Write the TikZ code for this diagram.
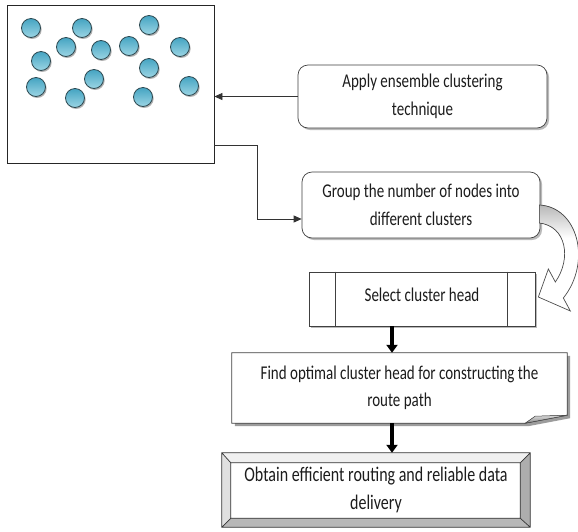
\documentclass[tikz,border=0pt]{standalone}
\usepackage{fontspec}
\setmainfont{Carlito}
\usepackage{graphicx}
\usetikzlibrary{arrows.meta,shadows,calc,backgrounds}

\definecolor{ballhi}{HTML}{9BD5E4}
\definecolor{ballmid}{HTML}{45A4C2}
\definecolor{balledge}{HTML}{2E4A52}
\definecolor{ink}{HTML}{1C1C1C}

% one text line, drawn a little taller than the font
\newcommand{\tline}[1]{\scalebox{1}[1.3]{#1}}

% outline of the curved block arrow between the grouping and selection steps
\newcommand{\bendpath}{(ca) .. controls (578,207) and (592,262) .. ($(sel.east)+(28,-1)$)
  -- ($(sel.east)+(35,12)$) -- (tip) -- ($(sel.east)+(13,-30)$) -- ($(sel.east)+(20,-17)$)
  .. controls (572,258) and (566,226) .. (cb) -- cycle}

\begin{document}
\begin{tikzpicture}[x=1pt,y=-1pt,
  ball/.style={circle, inner sep=0pt, minimum size=19pt, draw=balledge, line width=0.8pt,
    top color=ballmid, bottom color=ballhi,
    drop shadow={shadow xshift=1.2pt, shadow yshift=-1.5pt, opacity=0.6}},
  stepbox/.style={draw=black!75, line width=0.7pt, fill=white, text=ink, align=center, inner sep=0pt},
  softshadow/.style={drop shadow={shadow xshift=2pt, shadow yshift=-2pt, fill=black!45, opacity=0.6}},
  link/.style={draw=black!80, line width=0.8pt, -{Triangle[length=8pt,width=7pt]}},
  bigarrow/.style={draw=black, line width=4.5pt, -{Triangle[length=8pt,width=11pt]}},
  txt/.style={font=\fontsize{15}{27.5}\selectfont},
  bigtxt/.style={font=\fontsize{16}{28.5}\selectfont}
]
\begin{scope}[on background layer]
  \fill[white] (0,0) rectangle (578,531);
\end{scope}
\useasboundingbox (0,0) rectangle (578,531);

% field of sensor nodes
\node[draw=black!85, line width=0.8pt, minimum width=207pt, minimum height=158pt, inner sep=0pt] (fld) at (110.5,84) {};
\foreach \n/\x/\y in {1/31/28, 2/82/28, 3/149/25, 4/66/47, 5/101/50, 6/129/46, 7/180/47,
                      8/41/61, 9/149/68, 10/94/79, 11/36/87, 12/189/86, 13/75/98, 14/143/97}
  \node[ball] (b\n) at (\x,\y) {};

% process steps
\node[stepbox, rounded corners=10pt, softshadow, minimum width=249pt, minimum height=63pt, txt] (app) at (422.5,96.5)
  {\tline{Apply ensemble clustering}\\\tline{technique}};
\node[stepbox, rounded corners=10pt, softshadow, minimum width=238pt, minimum height=66pt, txt] (grp) at (421,205)
  {\tline{Group the number of nodes into}\\\tline{different clusters}};
\node[stepbox, softshadow, minimum width=226pt, minimum height=54pt, txt] (sel) at (422,299)
  {\raisebox{8pt}{\tline{Select cluster head}}};
\draw[black!75, line width=0.7pt] ([xshift=27pt]sel.north west) -- ([xshift=27pt]sel.south west)
  ([xshift=-28pt]sel.north east) -- ([xshift=-28pt]sel.south east);

\node[txt, text=ink, align=center, minimum width=335pt, minimum height=70pt, inner sep=0pt] (fnd) at (399.5,388)
  {\tline{Find optimal cluster head for constructing the}\\\tline{route path}};
\node[bigtxt, text=ink, align=center, minimum width=308pt, minimum height=74pt, inner sep=0pt] (obt) at (376,490)
  {\tline{Obtain efficient routing and reliable data}\\\tline{delivery}};

\begin{scope}[on background layer]
  % document shape with a folded corner
  \fill[black!55, opacity=0.7, transform canvas={shift={(3pt,-3pt)}}]
    (fnd.north west) -- (fnd.north east) -- ($(fnd.south east)+(0,-8)$) -- ($(fnd.south east)+(-42,0)$) -- (fnd.south west) -- cycle;
  \filldraw[fill=white, draw=black!75, line width=0.7pt]
    (fnd.north west) -- (fnd.north east) -- ($(fnd.south east)+(0,-8)$) -- ($(fnd.south east)+(-42,0)$) -- (fnd.south west) -- cycle;
  \filldraw[top color=black!15, bottom color=black!45, draw=black!70, line width=0.5pt]
    ($(fnd.south east)+(-42,0)$) -- ($(fnd.south east)+(-32,-7)$) -- ($(fnd.south east)+(0,-8)$) -- cycle;
  % bevelled frame
  \coordinate (i1) at ($(obt.north west)+(9,10)$);
  \coordinate (i2) at ($(obt.north east)+(-10,10)$);
  \coordinate (i3) at ($(obt.south east)+(-10,-9)$);
  \coordinate (i4) at ($(obt.south west)+(9,-9)$);
  \fill[black!6] (obt.north west) -- (obt.north east) -- (i2) -- (i1) -- cycle;
  \fill[black!12] (obt.north west) -- (i1) -- (i4) -- (obt.south west) -- cycle;
  \fill[black!32] (obt.north east) -- (obt.south east) -- (i3) -- (i2) -- cycle;
  \fill[black!28] (obt.south west) -- (i4) -- (i3) -- (obt.south east) -- cycle;
  \fill[white] (i1) rectangle (i3);
  \draw[black!80, line width=0.7pt] (obt.north west) rectangle (obt.south east) (i1) rectangle (i3)
    (obt.north west) -- (i1) (obt.north east) -- (i2) (obt.south east) -- (i3) (obt.south west) -- (i4);
\end{scope}

% connectors
\draw[link] (app.west) -- (app.west -| fld.east);
\coordinate (f1) at ($(fld.south east)+(0,-18)$);
\coordinate (g1) at ($(grp.west)+(0,14)$);
\draw[link] (f1) -- ++(43,0) |- (g1);

\coordinate (s1) at ($(sel.south)+(-30,0)$);
\draw[bigarrow] (s1) -- (s1 |- fnd.north);
\coordinate (s2) at (s1 |- fnd.south);
\draw[bigarrow] (s2) -- (s2 |- obt.north);

% curved block arrow
\coordinate (ca) at ($(grp.east)+(-1,0)$);
\coordinate (cb) at ($(grp.east)+(-1,18)$);
\coordinate (tip) at ($(sel.east)+(3,-2)$);
\fill[white] \bendpath;
\begin{scope}
  \clip \bendpath;
  \fill[top color=black!32, bottom color=white] (525,200) rectangle (590,238);
\end{scope}
\draw[black!70, line width=0.7pt] \bendpath;
\end{tikzpicture}
\end{document}
